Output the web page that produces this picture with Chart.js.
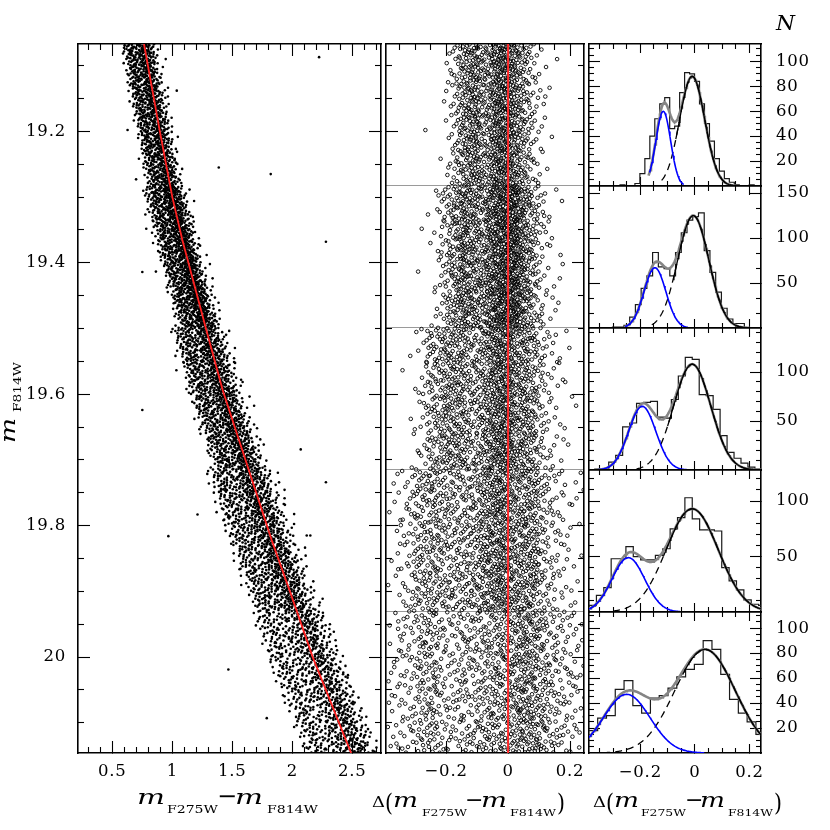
<!DOCTYPE html>
<html>
<head>
<meta charset="utf-8">
<title>Main-sequence split</title>
<script src="https://cdn.jsdelivr.net/npm/chart.js@4.4.1/dist/chart.umd.min.js"></script>
<style>
html,body{margin:0;padding:0;background:#fff;}
#wrap{position:relative;width:830px;height:830px;overflow:hidden;background:#fff;}
#wrap canvas{position:absolute;left:0;top:0;}
#ttl{position:absolute;left:0;top:0;width:830px;height:830px;pointer-events:none;}
</style>
</head>
<body>
<div id="wrap">
<svg id="ttl" width="830" height="830" xmlns="http://www.w3.org/2000/svg" font-family="DejaVu Serif" fill="#000">
  <g transform="translate(15,443) rotate(-90)">
    <text x="0" y="0" font-size="20" font-style="italic" textLength="25" lengthAdjust="spacingAndGlyphs">m</text>
    <text x="31" y="6" font-size="10.5" textLength="50" lengthAdjust="spacingAndGlyphs">F814W</text>
  </g>
  <text x="137" y="804" font-size="19.5" font-style="italic" textLength="28" lengthAdjust="spacingAndGlyphs">m</text>
  <text x="167" y="813" font-size="10.5" textLength="51" lengthAdjust="spacingAndGlyphs">F275W</text>
  <text x="217" y="804" font-size="24">−</text>
  <text x="235" y="804" font-size="19.5" font-style="italic" textLength="28" lengthAdjust="spacingAndGlyphs">m</text>
  <text x="267" y="813" font-size="10.5" textLength="51" lengthAdjust="spacingAndGlyphs">F814W</text>

  <text x="372" y="806.5" font-size="15" textLength="13" lengthAdjust="spacingAndGlyphs">Δ</text>
  <text x="385" y="811" font-size="24" textLength="8" lengthAdjust="spacingAndGlyphs">(</text>
  <text x="393" y="806.5" font-size="19.5" font-style="italic" textLength="25" lengthAdjust="spacingAndGlyphs">m</text>
  <text x="422" y="816" font-size="10" textLength="45" lengthAdjust="spacingAndGlyphs">F275W</text>
  <text x="465" y="806.5" font-size="22">−</text>
  <text x="481" y="806.5" font-size="19.5" font-style="italic" textLength="26" lengthAdjust="spacingAndGlyphs">m</text>
  <text x="510" y="816" font-size="10" textLength="46" lengthAdjust="spacingAndGlyphs">F814W</text>
  <text x="557" y="811" font-size="24" textLength="8" lengthAdjust="spacingAndGlyphs">)</text>

  <text x="593" y="806.5" font-size="15" textLength="13" lengthAdjust="spacingAndGlyphs">Δ</text>
  <text x="606" y="811" font-size="24" textLength="8" lengthAdjust="spacingAndGlyphs">(</text>
  <text x="614" y="806.5" font-size="19.5" font-style="italic" textLength="25" lengthAdjust="spacingAndGlyphs">m</text>
  <text x="641" y="816" font-size="10" textLength="45" lengthAdjust="spacingAndGlyphs">F275W</text>
  <text x="685" y="806.5" font-size="22">−</text>
  <text x="700" y="806.5" font-size="19.5" font-style="italic" textLength="25" lengthAdjust="spacingAndGlyphs">m</text>
  <text x="728" y="816" font-size="10" textLength="45" lengthAdjust="spacingAndGlyphs">F814W</text>
  <text x="774" y="811" font-size="24" textLength="8" lengthAdjust="spacingAndGlyphs">)</text>

  <text x="776" y="30" font-size="21" font-style="italic" textLength="19" lengthAdjust="spacingAndGlyphs">N</text>
</svg>
</div>
<script>
// ===================== DATA =====================
// magnitude bins of the five right-hand histograms (m_F814W)
const magBinEdges = [19.067, 19.283, 19.498, 19.714, 19.930, 20.146];

// red fiducial line of the CMD (m_F814W, m_F275W - m_F814W)
const fidMag   = [19.067, 19.2, 19.3, 19.365, 19.5, 19.594, 19.7, 19.822, 19.9, 20.0, 20.146];
const fidColor = [0.764, 0.896, 1.0, 1.083, 1.28, 1.42, 1.61, 1.828, 1.98, 2.17, 2.49];

// isolated field stars in the CMD
const fieldColor = [2.223, 1.037, 1.387, 1.82, 0.698, 2.28, 0.75, 0.75, 2.07, 2.28, 1.21, 0.967, 2.12, 2.15, 1.467, 1.787];
const fieldMag   = [19.087, 19.138, 19.255, 19.265, 19.273, 19.368, 19.414, 19.624, 19.684, 19.734, 19.783, 19.816, 19.815, 19.815, 20.019, 20.093];

// histograms of Delta(m_F275W - m_F814W) per magnitude bin (top to bottom)
const histStart = [-0.2744, -0.302, -0.3668, -0.3878, -0.3884];
const histWidth = [0.0182, 0.021, 0.0255, 0.027, 0.0322];
const hist1 = [1,0,0,2,10,22,40,54,66,71,46,48,75,91,90,84,66,50,36,22,12,6,3,1,0,0,1];
const hist2 = [1,1,3,12,26,44,58,84,68,66,58,84,106,120,124,128,86,62,40,22,10,5,5];
const hist3 = [1,1,8,15,44,48,68,69,70,54,53,72,96,115,113,77,76,62,35,18,12,7,3,1];
const hist4 = [6,15,22,48,48,59,50,47,47,51,57,75,85,103,84,74,74,73,40,28,20,11,7,6];
const hist5 = [18,28,30,51,58,38,32,44,46,52,61,67,71,90,83,63,43,32,25,15];

// two-Gaussian fits: blue (bluer population) and black (main population)
const blueMu    = [-0.116, -0.1465, -0.193, -0.244, -0.250];
const blueSigma = [0.027, 0.040, 0.050, 0.060, 0.085];
const blueAmp   = [60, 67, 65, 49, 47];
const mainMu    = [-0.010, -0.006, -0.010, -0.010, 0.037];
const mainSigma = [0.046, 0.057, 0.068, 0.095, 0.110];
const mainAmp   = [88, 125, 108, 93, 83];
// x extents over which each curve is drawn
const blueFrom  = [-0.166, -0.256, -0.354, -0.39, -0.39];
const blueTo    = [-0.044, -0.026, -0.026, -0.046, 0.034];
const dashFrom  = [-0.122, -0.158, -0.214, -0.300, -0.336];
const solidFrom = [-0.070, -0.080, -0.100, -0.115, -0.040];
const grayFrom  = [-0.170, -0.260, -0.360, -0.39, -0.39];
const grayTo    = [0.150, 0.200, 0.245, 0.245, 0.245];

// axes / ticks
const histYMax    = [114, 158, 145, 128, 113];
const histYMajor  = [[20,40,60,80,100],[50,100,150],[50,100],[50,100],[20,40,60,80,100]];
const histYLabels = [["20","40","60","80","100"],["50","100","150"],["50","100"],["50","100"],["20","40","60","80","100"]];
const histYMinor  = [
  [5,10,15,25,30,35,45,50,55,65,70,75,85,90,95,105,110],
  [16.67,33.33,66.67,83.33,116.67,133.33],
  [10,20,30,40,60,70,80,90,110,120,130,140],
  [10,20,30,40,60,70,80,90,110,120],
  [5,10,15,25,30,35,45,50,55,65,70,75,85,90,95,105,110]
];
const deltaMajor  = [-0.2, 0, 0.2];
const deltaLabels = ["\u22120.2", "0", "0.2"];
const deltaMinor  = [-0.35,-0.3,-0.25,-0.15,-0.1,-0.05,0.05,0.1,0.15];
const colorMajor  = [0.5, 1, 1.5, 2, 2.5];
const colorLabels = ["0.5", "1", "1.5", "2", "2.5"];
const colorMinor  = [0.3,0.4,0.6,0.7,0.8,0.9,1.1,1.2,1.3,1.4,1.6,1.7,1.8,1.9,2.1,2.2,2.3,2.4,2.6,2.7];
const magMajor    = [19.2, 19.4, 19.6, 19.8, 20.0];
const magLabels   = ["19.2", "19.4", "19.6", "19.8", "20"];
const magMinor    = [19.1,19.15,19.25,19.3,19.35,19.45,19.5,19.55,19.65,19.7,19.75,19.85,19.9,19.95,20.05,20.1];

// ===================== BUILD =====================
const W = 830;
const FONT = 'DejaVu Serif';
const wrap = document.getElementById('wrap');
const svg = document.getElementById('ttl');

function fidAt(m){
  for (let i = 0; i < fidMag.length - 1; i++) {
    if (m <= fidMag[i+1]) {
      const t = (m - fidMag[i]) / (fidMag[i+1] - fidMag[i]);
      return fidColor[i] + t * (fidColor[i+1] - fidColor[i]);
    }
  }
  return fidColor[fidColor.length - 1];
}
// Halton low-discrepancy positions: lay the counted stars out evenly (no randomness)
function halton(k, b){ let f = 1, r = 0; while (k > 0) { f /= b; r += f * (k % b); k = Math.floor(k / b); } return r; }

// stars of each magnitude bin, distributed in Delta exactly as the histogram of that bin
const hists = [hist1, hist2, hist3, hist4, hist5];
const midPts = [], cmdPts = [];
hists.forEach((h, i) => {
  const lo = magBinEdges[i], hi = magBinEdges[i+1];
  const cum = [0];
  h.forEach(n => cum.push(cum[cum.length - 1] + n));
  const N = cum[cum.length - 1];
  for (let k = 0; k < N; k++) {
    const idx = k + 1 + 409 * i;
    const t = halton(idx, 3) * N;            // position in the cumulative histogram
    let j = 0; while (j < h.length - 1 && cum[j + 1] <= t) j++;
    const d = histStart[i] + histWidth[i] * (j + (t - cum[j]) / Math.max(h[j], 1));
    const m = lo + (hi - lo) * halton(idx, 2);
    midPts.push({x: d, y: m});
    cmdPts.push({x: fidAt(m) + d, y: m});
  }
});
fieldColor.forEach((c, i) => cmdPts.push({x: c, y: fieldMag[i]}));

function mkCtx(){
  const c = document.createElement('canvas');
  c.width = W; c.height = W;
  c.style.width = W + 'px'; c.style.height = W + 'px';
  wrap.insertBefore(c, svg);
  return c.getContext('2d');
}

function ax(pos, min, max, vals, len, o = {}) {
  const horiz = (pos === 'top' || pos === 'bottom');
  const labs = o.labels || null;
  return {
    type: 'linear', position: pos, min: min, max: max, bounds: 'data',
    reverse: !!o.reverse,
    afterBuildTicks: s => { s.ticks = vals.map(v => ({value: v})); },
    afterFit: s => {
      if (horiz) s.height = 0; else s.width = 0;
      s._computeLabelArea = () => undefined;   // do not clip labels to the zero-size axis box
    },
    grid: o.gridLines ? {
      display: true, drawOnChartArea: true, drawTicks: false, color: '#9a9a9a', lineWidth: 1
    } : {
      display: true, drawOnChartArea: false, drawTicks: true, tickLength: -len,
      tickColor: '#000', tickWidth: 1.1
    },
    border: { display: !!o.border, color: '#000', width: 1.6 },
    ticks: {
      display: !!labs, autoSkip: false, maxRotation: 0, minRotation: 0, includeBounds: false,
      padding: len + (o.gap || 0), color: '#000',
      font: { family: FONT, size: 16.5 },
      callback: (v, i) => labs ? labs[i] : ''
    }
  };
}

function frameScales(xr, yr, xMaj, xMin, yMaj, yMin, L, o) {
  const s = {};
  s.x   = ax('bottom', xr[0], xr[1], xMaj, L.xMaj, {border: true, labels: o.xLabels, gap: o.xGap});
  s.xm  = ax('bottom', xr[0], xr[1], xMin, L.xMin);
  s.xt  = ax('top',    xr[0], xr[1], xMaj, L.xMaj, {border: true});
  s.xtm = ax('top',    xr[0], xr[1], xMin, L.xMin);
  s.y   = ax('left',   yr[0], yr[1], yMaj, L.yMaj, {border: true, labels: o.yLeftLabels, gap: o.yGap, reverse: o.reverse});
  s.ym  = ax('left',   yr[0], yr[1], yMin, L.yMin, {reverse: o.reverse});
  s.yr  = ax('right',  yr[0], yr[1], yMaj, L.yMaj, {border: true, labels: o.yRightLabels, gap: o.yGap, reverse: o.reverse});
  s.yrm = ax('right',  yr[0], yr[1], yMin, L.yMin, {reverse: o.reverse});
  return s;
}

const letterSpacingPlugin = {
  id: 'ls',
  beforeDraw(chart) { try { chart.ctx.letterSpacing = '0.8px'; } catch (e) {} }
};

function baseOpts(box, scales) {
  return {
    responsive: false, animation: false, devicePixelRatio: 1, events: [],
    layout: { padding: { left: box[0], top: box[1], right: W - box[2], bottom: W - box[3] } },
    plugins: { legend: { display: false }, tooltip: { enabled: false } },
    scales: scales
  };
}

const magRange = [magBinEdges[0], magBinEdges[5]];

// ---------- left panel: CMD ----------
{
  const sc = frameScales([0.214, 2.739], magRange, colorMajor, colorMinor, magMajor, magMinor,
    {xMaj: 12, xMin: 6, yMaj: 12, yMin: 6},
    {xLabels: colorLabels, xGap: 9, yLeftLabels: magLabels, yGap: 12, reverse: true});
  new Chart(mkCtx(), {
    type: 'scatter',
    data: { datasets: [
      { data: fidMag.map((m, i) => ({x: fidColor[i], y: m})), showLine: true, borderColor: '#ff2020',
        borderWidth: 1.8, pointRadius: 0, order: 0 },
      { data: cmdPts, pointRadius: 1.3, pointBackgroundColor: '#000', pointBorderWidth: 0, order: 1 }
    ]},
    options: baseOpts([78, 44, 381, 753], sc),
    plugins: [letterSpacingPlugin]
  });
}

// ---------- middle panel: rectified colours ----------
{
  const sc = frameScales([-0.394, 0.245], magRange, deltaMajor, deltaMinor, magMajor, magMinor,
    {xMaj: 12, xMin: 6, yMaj: 12, yMin: 6},
    {xLabels: deltaLabels, xGap: 9, reverse: true});
  sc.yg = ax('left', magRange[0], magRange[1], magBinEdges.slice(1, 5), 0, {gridLines: true, reverse: true});
  new Chart(mkCtx(), {
    type: 'scatter',
    data: { datasets: [
      { data: [{x: 0, y: magRange[0]}, {x: 0, y: magRange[1]}], showLine: true, borderColor: '#ff2a2a',
        borderWidth: 2, pointRadius: 0, order: 0 },
      { data: midPts, pointRadius: 1.8, pointBorderColor: '#000', pointBorderWidth: 0.9,
        pointBackgroundColor: 'rgba(255,255,255,0)', order: 1 }
    ]},
    options: baseOpts([386, 44, 584, 753], sc),
    plugins: [letterSpacingPlugin]
  });
}

// ---------- right panels: histograms with Gaussian fits ----------
const panelTop = [44, 186, 328, 470, 612, 753];
const xr = [-0.388, 0.242];
function gauss(x, mu, s, a){ return a * Math.exp(-0.5 * ((x - mu) / s) * ((x - mu) / s)); }
function curve(fn, a, b){
  const pts = [];
  const n = Math.max(2, Math.round((b - a) / 0.003));
  for (let k = 0; k <= n; k++) { const x = a + (b - a) * k / n; pts.push({x: x, y: fn(x)}); }
  return pts;
}
hists.forEach((h, i) => {
  const st = histStart[i], w = histWidth[i];
  const step = [{x: st, y: 0}];
  h.forEach((n, j) => step.push({x: st + j * w, y: n}));
  step.push({x: st + h.length * w, y: h[h.length - 1]});
  step.push({x: st + h.length * w, y: 0});
  const bl = x => gauss(x, blueMu[i], blueSigma[i], blueAmp[i]);
  const mn = x => gauss(x, mainMu[i], mainSigma[i], mainAmp[i]);
  const sc = frameScales(xr, [0, histYMax[i]], deltaMajor, deltaMinor, histYMajor[i], histYMinor[i],
    {xMaj: 9, xMin: 5, yMaj: 11, yMin: 5},
    {xLabels: i === 4 ? deltaLabels : null, xGap: 10, yRightLabels: histYLabels[i], yGap: 15});
  new Chart(mkCtx(), {
    type: 'line',
    data: { datasets: [
      { data: step, stepped: 'before', borderColor: '#1a1a1a', borderWidth: 1.2, pointRadius: 0, fill: false, order: 5 },
      { data: curve(x => bl(x) + mn(x), grayFrom[i], grayTo[i]), borderColor: '#858585', borderWidth: 2.6,
        pointRadius: 0, fill: false, tension: 0, order: 4 },
      { data: curve(mn, dashFrom[i], 0.245), borderColor: '#000', borderWidth: 1.3, borderDash: [7, 5],
        pointRadius: 0, fill: false, tension: 0, order: 3 },
      { data: curve(mn, solidFrom[i], 0.245), borderColor: '#000', borderWidth: 1.3,
        pointRadius: 0, fill: false, tension: 0, order: 2 },
      { data: curve(bl, blueFrom[i], blueTo[i]), borderColor: '#0000ff', borderWidth: 1.6,
        pointRadius: 0, fill: false, tension: 0, order: 1 }
    ]},
    options: baseOpts([589, panelTop[i], 761, panelTop[i + 1]], sc),
    plugins: [letterSpacingPlugin]
  });
});
</script>
</body>
</html>
